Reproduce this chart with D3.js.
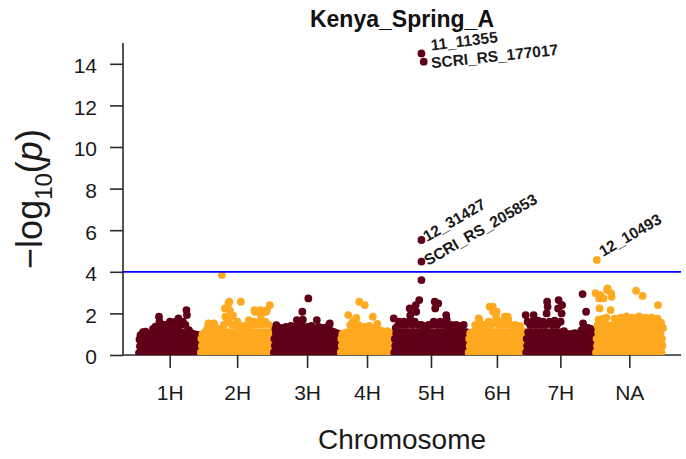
<!DOCTYPE html>
<html>
<head>
<meta charset="utf-8">
<script src="https://cdn.jsdelivr.net/npm/d3@7"></script>
<style>
  body { margin: 0; background: #fff; }
  svg { display: block; }
  text { font-family: "Liberation Sans", Arial, Helvetica, sans-serif; }
</style>
</head>
<body>
<div id="chart"></div>
<script>
// Genome-wide scan: -log10(p) per marker, in marker order along each chromosome
const chromosomes = ["1H", "2H", "3H", "4H", "5H", "6H", "7H", "NA"];

const logp1H = [0.1,0.75,0.42,0.95,0.9, 0.14,0.78,0.45,1.1,1.05, 0.1,0.8,0.44,1.12,1.08, 0.12,0.76,0.46,1.0,0.95,
  0.15,0.74,0.42,0.76,0.7, 0.1,0.78,0.45,1.25,1.08, 0.12,0.77,0.44,1.36,1.1, 0.14,0.79,0.46,1.3,1.06, 1.84,1.6,
  0.11,0.76,0.43,1.2,1.1, 0.13,0.8,0.47,1.45,1.05, 0.1,0.78,0.45,1.45,1.1, 0.12,0.75,0.42,1.25,1.08, 1.6,
  0.15,0.79,0.46,1.15,1.06, 0.1,0.77,0.44,1.45,1.1, 1.6, 0.13,0.8,0.45,1.25,1.07, 1.76,
  0.11,0.76,0.47,1.45,1.1, 0.14,0.78,0.43,1.6,1.08, 0.1,0.79,0.46,1.45,1.1, 2.16,1.92,
  0.12,0.75,0.44,1.2,1.08, 0.15,0.78,0.45,1.05,1.0, 0.1,0.77,0.42,1.0,0.95, 0.13,0.8,0.46,0.98,0.92,
  0.11,0.76,0.44,0.95,0.9, 0.12,0.5];
const logp2H = [0.12,0.78,0.45,1.0,0.95, 0.1,0.76,0.43,1.1,1.05, 0.14,0.8,0.46,1.3,1.08, 1.52,
  0.11,0.77,0.44,1.4,1.1, 0.13,0.79,0.45,1.2,1.06, 1.52, 0.1,0.75,0.42,1.3,1.1, 0.12,0.78,0.47,1.2,1.05,
  0.15,0.77,0.44,1.25,1.08, 3.85, 0.11,0.8,0.46,1.45,1.1, 2.24,1.84,
  0.1,0.76,0.43,1.6,1.1, 2.48,1.7, 2.56,2.13, 0.13,0.78,0.45,1.45,1.08, 1.9,
  0.12,0.79,0.44,1.45,1.1, 0.1,0.77,0.46,1.6,1.1, 0.14,0.8,0.43,1.3,1.05, 2.56,
  0.11,0.76,0.45,1.4,1.08, 0.13,0.78,0.44,1.3,1.1, 0.1,0.75,0.47,1.45,1.06, 1.68,
  0.12,0.79,0.45,1.45,1.1, 0.15,0.77,0.42,1.6,1.1, 2.16,2.08, 0.11,0.8,0.46,1.45,1.08,
  0.1,0.76,0.44,1.6,1.1, 2.16,1.9, 0.13,0.78,0.45,1.45,1.08, 0.12,0.77,0.43,1.6,1.1, 2.08,2.16,
  0.1,0.79,0.46,1.45,1.08, 2.4, 0.14,0.76,0.44,1.1,1.0, 0.12,0.6];
const logp3H = [0.12,0.78,0.45,1.25,1.05, 1.44, 0.1,0.76,0.43,1.15,1.08, 0.14,0.8,0.46,1.3,1.1,
  0.11,0.77,0.44,1.2,1.05, 0.13,0.79,0.45,1.35,1.08, 0.1,0.75,0.42,1.25,1.1, 0.12,0.78,0.47,1.4,1.06,
  0.15,0.77,0.44,1.3,1.1, 0.11,0.8,0.46,1.35,1.05, 1.68, 0.1,0.76,0.43,1.3,1.08,
  0.13,0.78,0.45,1.45,1.1, 2.08,1.7, 0.12,0.79,0.44,1.3,1.06, 0.1,0.77,0.46,1.35,1.1, 2.72,
  0.14,0.8,0.43,1.2,1.05, 1.4, 0.11,0.76,0.45,1.3,1.08, 0.13,0.78,0.44,1.25,1.1, 1.68,
  0.1,0.75,0.47,1.35,1.06, 0.12,0.79,0.45,1.2,1.08, 0.15,0.77,0.42,1.3,1.1, 0.11,0.8,0.46,1.25,1.05,
  0.1,0.76,0.44,1.44,1.1, 1.52, 0.13,0.78,0.45,1.15,1.06, 0.12,0.77,0.43,1.1,1.0,
  0.1,0.79,0.46,1.05,0.98, 0.14,0.76,0.44,1.0,0.95, 0.12];
const logp4H = [0.12,0.78,0.45,1.0,0.95, 0.1,0.76,0.43,1.05,1.0, 0.14,0.8,0.46,1.1,1.05, 1.92,
  0.11,0.77,0.44,1.45,1.1, 0.13,0.79,0.45,1.6,1.1, 0.1,0.75,0.42,1.25,1.06, 1.78,
  0.12,0.78,0.47,1.45,1.1, 2.56, 0.15,0.77,0.44,1.3,1.05, 0.11,0.8,0.46,1.35,1.08, 2.4,
  0.1,0.76,0.43,1.35,1.1, 0.13,0.78,0.45,1.4,1.06, 0.12,0.79,0.44,1.25,1.08, 1.84,
  0.1,0.77,0.46,1.25,1.1, 0.14,0.8,0.43,1.5,1.05, 0.11,0.76,0.45,1.2,1.08, 0.13,0.78,0.44,1.15,1.05,
  0.1,0.75,0.47,1.1,1.06, 0.12,0.79,0.45,1.15,1.0, 0.15,0.77,0.42,1.0,0.95, 0.11,0.8,0.46,1.05,0.98, 0.12];
const logp5H = [1.76, 0.12,0.78,0.45,1.3,1.05, 0.1,0.76,0.43,1.45,1.08, 1.6, 0.14,0.8,0.46,1.45,1.1,
  0.11,0.77,0.44,1.6,1.1, 0.13,0.79,0.45,1.45,1.1, 0.1,0.75,0.42,1.6,1.1, 2.24,1.9,
  0.12,0.78,0.47,1.45,1.1, 0.15,0.77,0.44,1.6,1.1, 2.4,2.08, 0.11,0.8,0.46,1.45,1.1, 2.64,
  0.1,0.76,0.43,1.45,1.1, 0.13,0.78,0.45,1.4,1.06, 0.12,0.79,0.44,1.3,1.08, 0.1,0.77,0.46,1.45,1.1,
  0.14,0.8,0.43,1.45,1.08, 0.11,0.76,0.45,1.6,1.1, 2.56,2.24, 0.13,0.78,0.44,1.45,1.1, 2.48,
  0.1,0.75,0.47,1.6,1.1, 0.12,0.79,0.45,1.45,1.1, 0.15,0.77,0.42,1.6,1.1, 1.92,1.7,
  0.11,0.8,0.46,1.3,1.05, 0.1,0.76,0.44,1.45,1.1, 0.13,0.78,0.45,1.35,1.06, 0.12,0.77,0.43,1.45,1.1,
  0.1,0.79,0.46,1.3,1.05, 0.14,0.76,0.44,1.4,1.1, 0.11,0.8,0.45,1.45,1.1, 0.13,0.77,0.43,1.1,1.0,
  0.12,0.6,1.0];
const logp6H = [0.12,0.78,0.45,1.05,1.0, 0.1,0.76,0.43,1.1,1.05, 0.14,0.8,0.46,1.44,1.08,
  0.11,0.77,0.44,1.3,1.1, 1.76,1.72, 0.13,0.79,0.45,1.4,1.08, 0.1,0.75,0.42,1.45,1.1,
  0.12,0.78,0.47,1.4,1.1, 0.15,0.77,0.44,1.6,1.1, 2.32, 0.11,0.8,0.46,1.45,1.1, 2.32,2.08,
  0.1,0.76,0.43,1.6,1.1, 1.8,2.08, 0.13,0.78,0.45,1.45,1.1, 0.12,0.79,0.44,1.6,1.1,
  0.1,0.77,0.46,1.45,1.1, 1.84, 0.14,0.8,0.43,1.6,1.1, 1.84,1.7, 0.11,0.76,0.45,1.45,1.1,
  0.13,0.78,0.44,1.4,1.08, 0.1,0.75,0.47,1.45,1.1, 0.12,0.79,0.45,1.35,1.06, 0.15,0.77,0.42,1.4,1.08,
  0.11,0.8,0.46,1.15,1.05, 0.12,0.78,0.45,1.0];
const logp7H = [1.92, 0.12,0.78,0.45,1.6,1.1, 0.1,0.76,0.43,1.45,1.1, 0.14,0.8,0.46,1.6,1.1, 1.92,
  0.11,0.77,0.44,1.45,1.1, 0.13,0.79,0.45,1.65,1.1, 0.1,0.75,0.42,1.45,1.1, 0.12,0.78,0.47,1.6,1.1,
  0.15,0.77,0.44,1.45,1.1, 2.0,2.56,2.32, 0.11,0.8,0.46,1.6,1.1, 0.1,0.76,0.43,1.45,1.1,
  0.13,0.78,0.45,1.65,1.1, 0.12,0.79,0.44,1.45,1.1, 2.24,2.64, 0.1,0.77,0.46,1.6,1.1, 2.0,2.4,
  0.14,0.8,0.43,1.15,1.05, 0.11,0.76,0.45,1.0,0.95, 0.13,0.74,0.44,0.95,1.0, 0.1,0.75,0.42,1.0,0.9,
  0.12,0.76,0.45,0.95,1.05, 0.15,0.74,0.42,1.0,0.92, 0.11,0.77,0.46,1.05,1.0,
  0.1,0.76,0.44,1.2,1.05, 2.93,1.52, 0.13,0.78,0.45,1.3,1.08, 2.08, 0.12,0.77,0.43,1.3,1.1,
  0.1,0.79,0.46,1.25,1.05, 0.14,0.76,0.44,1.1,1.0, 0.12,0.78,0.45];
const logpNA = [2.97, 0.12,0.78,0.45,1.42,1.1,1.7, 2.72,2.24,2.88, 0.1,0.76,0.43,1.4,1.08,1.75, 2.72,
  0.14,0.8,0.46,1.45,1.1,1.8, 3.13,3.2, 0.11,0.77,0.44,1.42,1.05,2.16, 2.97,2.8,
  0.13,0.79,0.45,1.4,1.1,1.75, 0.1,0.75,0.42,1.45,1.08,1.7, 0.12,0.78,0.47,1.42,1.1,1.8,
  0.15,0.77,0.44,1.4,1.06,1.75, 0.11,0.8,0.46,1.45,1.1,1.85, 0.1,0.76,0.43,1.42,1.08,1.7,
  0.13,0.78,0.45,1.4,1.1,1.8, 0.12,0.79,0.44,1.45,1.06,1.75, 3.09, 0.1,0.77,0.46,1.42,1.1,1.85,
  0.14,0.8,0.43,1.4,1.08,1.7, 2.84, 0.11,0.76,0.45,1.45,1.1,1.8, 0.13,0.78,0.44,1.42,1.05,1.75,
  0.1,0.75,0.47,1.4,1.1,1.8, 0.12,0.79,0.45,1.45,1.08,1.7, 0.15,0.77,0.42,1.4,1.1,1.75, 2.4,
  0.11,0.8,0.46,1.42,1.05,1.55, 0.12,0.78,0.45,1.3];

const scans = [logp1H, logp2H, logp3H, logp4H, logp5H, logp6H, logp7H, logpNA];

// Top hits (position in markers from the chromosome start)
const hitChr  = ["5H", "5H", "5H", "5H", "5H", "NA"];
const hitPos  = [55.4, 60, 55.4, 55.4, 55.4, 2.6];
const hitLogP = [14.5, 14.1, 5.53, 4.49, 3.6, 4.57];
const hitSNP  = ["11_11355", "SCRI_RS_177017", "12_31427", "SCRI_RS_205853", "", "12_10493"];

const yTicks = [0, 2, 4, 6, 8, 10, 12, 14];
const suggestive = 4;
const title = "Kenya_Spring_A";

// ---- layout & styles ----
const W = 686, H = 459;
const plot = { left: 123, right: 681, top: 43, bottom: 355 };
const colours = ["#600018", "#ffa920"];
const axisColour = "#2a2a2a";
const dotR = 3.9;
const labelStyle = {
  "11_11355":       { dx: 10,  dy: -3,  rot: -7 },
  "SCRI_RS_177017": { dx: 8,   dy: 6.5, rot: -6 },
  "12_31427":       { dx: 5.5, dy: 2,   rot: -30 },
  "SCRI_RS_205853": { dx: 6.5, dy: 4.5, rot: -30 },
  "12_10493":       { dx: 6,   dy: -3,  rot: -30 }
};

const offsets = [];
let acc = 0;
scans.forEach(s => { offsets.push(acc); acc += s.length; });
const nMarkers = acc;

const x = d3.scaleLinear().domain([-32, nMarkers - 1 + 36]).range([plot.left, plot.right]);
const y = d3.scaleLinear().domain([0, 15]).range([plot.bottom, plot.top]);

const points = [];
scans.forEach((s, c) => s.forEach((v, i) => points.push({ c, pos: offsets[c] + i, v })));

const hits = hitChr.map((ch, k) => {
  const c = chromosomes.indexOf(ch);
  return { c, pos: offsets[c] + hitPos[k], v: hitLogP[k], snp: hitSNP[k] };
});

const svg = d3.select("#chart").append("svg")
  .attr("width", W).attr("height", H)
  .attr("viewBox", `0 0 ${W} ${H}`);

svg.append("rect").attr("width", W).attr("height", H).attr("fill", "#fff");

svg.append("defs").append("clipPath").attr("id", "plot-clip")
  .append("rect")
  .attr("x", plot.left).attr("y", plot.top)
  .attr("width", plot.right - plot.left).attr("height", plot.bottom - plot.top);

// L-shaped frame
svg.append("path")
  .attr("d", `M${plot.left},${plot.top}V${plot.bottom}H${plot.right}`)
  .attr("fill", "none").attr("stroke", axisColour).attr("stroke-width", 1.6);

// markers
const dots = svg.append("g").attr("clip-path", "url(#plot-clip)");
dots.selectAll("circle.snp").data(points).join("circle")
  .attr("class", "snp")
  .attr("cx", d => x(d.pos)).attr("cy", d => y(d.v)).attr("r", dotR)
  .attr("fill", d => colours[d.c % 2]);
dots.selectAll("circle.hit").data(hits).join("circle")
  .attr("class", "hit")
  .attr("cx", d => x(d.pos)).attr("cy", d => y(d.v)).attr("r", dotR)
  .attr("fill", d => colours[d.c % 2]);

// suggestive threshold
svg.append("line")
  .attr("x1", plot.left).attr("x2", plot.right)
  .attr("y1", y(suggestive)).attr("y2", y(suggestive))
  .attr("stroke", "#0000ff").attr("stroke-width", 1.8);

// y axis
const yAxis = svg.append("g").attr("transform", `translate(${plot.left},0)`)
  .call(d3.axisLeft(y).tickValues(yTicks).tickSize(13).tickPadding(13));
yAxis.select(".domain").remove();
yAxis.selectAll("line").attr("stroke", axisColour).attr("stroke-width", 1.6);
yAxis.selectAll("text").attr("font-size", 21).attr("fill", "#1a1a1a").attr("dy", "0.42em");

// x axis at chromosome midpoints
const mids = scans.map((s, c) => offsets[c] + (s.length - 1) / 2);
const xAxis = svg.append("g").attr("transform", `translate(0,${plot.bottom})`)
  .call(d3.axisBottom(x).tickValues(mids).tickFormat((d, i) => chromosomes[i]).tickSize(13).tickPadding(17));
xAxis.select(".domain").remove();
xAxis.selectAll("line").attr("stroke", axisColour).attr("stroke-width", 1.6);
xAxis.selectAll("text").attr("font-size", 21).attr("fill", "#1a1a1a");

// titles
svg.append("text")
  .attr("x", (plot.left + plot.right) / 2).attr("y", 27)
  .attr("text-anchor", "middle").attr("font-size", 23).attr("font-weight", "bold")
  .attr("fill", "#111").text(title);

svg.append("text")
  .attr("x", (plot.left + plot.right) / 2).attr("y", 449)
  .attr("text-anchor", "middle").attr("font-size", 28).attr("fill", "#1a1a1a")
  .text("Chromosome");

const yl = svg.append("text")
  .attr("transform", `translate(42,${(plot.top + plot.bottom) / 2}) rotate(-90)`)
  .attr("text-anchor", "middle").attr("font-size", 36).attr("fill", "#1a1a1a");
yl.append("tspan").text("\u2212log");
yl.append("tspan").attr("font-size", 24).attr("dy", 10).text("10");
yl.append("tspan").attr("dy", -10).text("(");
yl.append("tspan").attr("font-style", "italic").text("p");
yl.append("tspan").text(")");

// SNP labels
svg.append("g").selectAll("text").data(hits.filter(d => d.snp)).join("text")
  .attr("transform", d => {
    const s = labelStyle[d.snp];
    return `translate(${x(d.pos) + s.dx},${y(d.v) + s.dy}) rotate(${s.rot})`;
  })
  .attr("font-size", 15.5).attr("font-weight", "bold").attr("fill", "#1a1a1a")
  .text(d => d.snp);
</script>
</body>
</html>
